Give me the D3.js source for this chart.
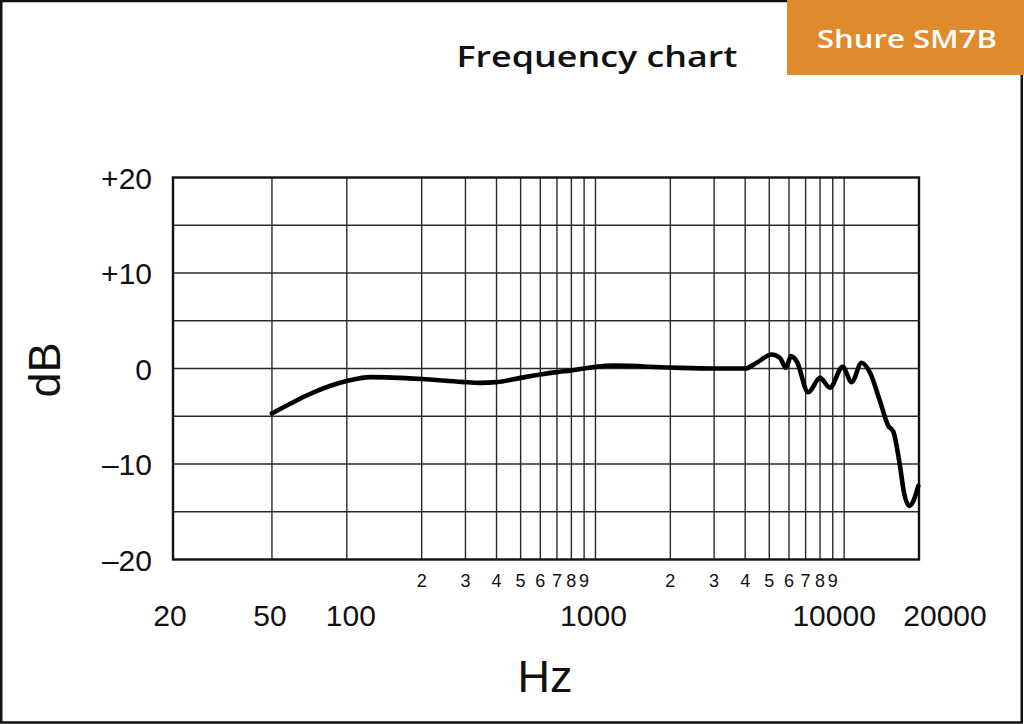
<!DOCTYPE html>
<html>
<head>
<meta charset="utf-8">
<script src="https://cdn.jsdelivr.net/npm/d3@7"></script>
<style>
  html, body { margin: 0; padding: 0; background: #fff; }
  svg { display: block; }
</style>
</head>
<body>
<svg id="chart" width="1024" height="724"></svg>
<script>
// ---- data ----
const freqs = [50, 100, 125, 200, 290, 343, 400, 500, 600, 700, 800, 900, 1000, 1180, 2000, 3000, 4000,
  4450, 5110, 5520, 5840, 6110, 6440, 7170, 8000, 8770, 9860, 10720, 11760, 12710, 13930,
  15050, 15760, 16770, 17410, 18230, 18970, 19870];
const dbValues = [-4.7, -1.3, -0.9, -1.1, -1.4, -1.5, -1.43, -0.98, -0.63, -0.38, -0.2, 0, 0.17, 0.3, 0.1, 0, 0,
  0.6, 1.47, 1.1, 0.07, 1.3, 0.77, -2.48, -0.98, -2.0, 0.17, -1.43, 0.6, -0.45, -3.4,
  -6.0, -6.6, -10.2, -13.0, -14.4, -13.9, -12.3];
const majorTicks = [20, 50, 100, 1000, 10000, 20000];
const minorTicks = [200, 300, 400, 500, 600, 700, 800, 900, 2000, 3000, 4000, 5000, 6000, 7000, 8000, 9000];
const gridFreqs = [50, 100, 200, 300, 400, 500, 600, 700, 800, 900, 1000, 2000, 3000, 4000, 5000, 6000, 7000, 8000, 9000, 10000];
const dbTicks = [-20, -10, 0, 10, 20];
const dbTickLabels = ["\u201320", "\u201310", "0", "+10", "+20"];
const dbGrid = [-15, -5, 5, 15];
const titleText = "Frequency chart";
const badgeText = "Shure SM7B";

// ---- layout ----
const svg = d3.select("#chart");
const W = 1024, H = 724;
const plot = { left: 173, right: 919, top: 177.5, bottom: 559.5 };
const axisFont = "'Liberation Sans', Arial, sans-serif";

const x = d3.scaleLog().domain([20, 20000]).range([plot.left, plot.right]);
const y = d3.scaleLinear().domain([-20, 20]).range([plot.bottom, plot.top]);

// outer frame
svg.append("rect").attr("x", 1.25).attr("y", 1).attr("width", W - 3.5).attr("height", H - 2.5)
  .attr("fill", "#fff").attr("stroke", "#111").attr("stroke-width", 2.5);

// badge
svg.append("rect").attr("x", 787).attr("y", 0).attr("width", 237).attr("height", 75).attr("fill", "#DF8A2C");
svg.append("text").attr("x", 907).attr("y", 48).attr("text-anchor", "middle")
  .attr("font-family", "'Open Sans', sans-serif").attr("font-weight", 600).attr("font-size", 25)
  .attr("fill", "#fff").attr("textLength", 180).attr("lengthAdjust", "spacingAndGlyphs").text(badgeText);

// title
svg.append("text").attr("x", 597).attr("y", 67).attr("text-anchor", "middle")
  .attr("font-family", "'Open Sans', sans-serif").attr("font-weight", 600).attr("font-size", 29)
  .attr("fill", "#111").attr("textLength", 281).attr("lengthAdjust", "spacingAndGlyphs").text(titleText);

// grid
const g = svg.append("g");
g.selectAll("line.vg").data(gridFreqs).join("line").attr("class", "vg")
  .attr("x1", d => x(d)).attr("x2", d => x(d)).attr("y1", plot.top).attr("y2", plot.bottom)
  .attr("stroke", "#2a2a2a").attr("stroke-width", 1.4);
g.selectAll("line.hg").data(dbGrid.concat([-10, 0, 10])).join("line").attr("class", "hg")
  .attr("x1", plot.left).attr("x2", plot.right).attr("y1", d => y(d)).attr("y2", d => y(d))
  .attr("stroke", "#2a2a2a").attr("stroke-width", 1.4);
g.append("rect").attr("x", plot.left).attr("y", plot.top)
  .attr("width", plot.right - plot.left).attr("height", plot.bottom - plot.top)
  .attr("fill", "none").attr("stroke", "#111").attr("stroke-width", 2.4);

// y labels
svg.selectAll("text.yl").data(dbTicks).join("text").attr("class", "yl")
  .attr("x", 152).attr("y", d => y(d) + 11).attr("text-anchor", "end")
  .attr("font-family", axisFont).attr("font-size", 30).attr("fill", "#111")
  .text((d, i) => dbTickLabels[i]);

// minor x labels
svg.selectAll("text.xm").data(minorTicks).join("text").attr("class", "xm")
  .attr("x", d => x(d)).attr("y", 587).attr("text-anchor", "middle")
  .attr("font-family", axisFont).attr("font-size", 18).attr("fill", "#111")
  .text(d => String(d).charAt(0));

// major x labels (a couple are nudged in the original artwork)
const labelShift = { 20: -3, 50: -2, 100: 4, 1000: -2, 10000: -10, 20000: 26 };
svg.selectAll("text.xM").data(majorTicks).join("text").attr("class", "xM")
  .attr("x", d => x(d) + (labelShift[d] || 0)).attr("y", 626).attr("text-anchor", "middle")
  .attr("font-family", axisFont).attr("font-size", 30).attr("fill", "#111")
  .text(d => d);

// axis titles
svg.append("text").attr("x", 545).attr("y", 692).attr("text-anchor", "middle")
  .attr("font-family", axisFont).attr("font-size", 45).attr("fill", "#111").text("Hz");
svg.append("text").attr("transform", "translate(60,370) rotate(-90)").attr("text-anchor", "middle")
  .attr("font-family", axisFont).attr("font-size", 45).attr("fill", "#111").text("dB");

// response curve
const pts = freqs.map((f, i) => [f, dbValues[i]]);
const line = d3.line().x(d => x(d[0])).y(d => y(d[1])).curve(d3.curveMonotoneX);
svg.append("path").datum(pts).attr("d", line)
  .attr("fill", "none").attr("stroke", "#000").attr("stroke-width", 4.6)
  .attr("stroke-linejoin", "round").attr("stroke-linecap", "round");
</script>
</body>
</html>
